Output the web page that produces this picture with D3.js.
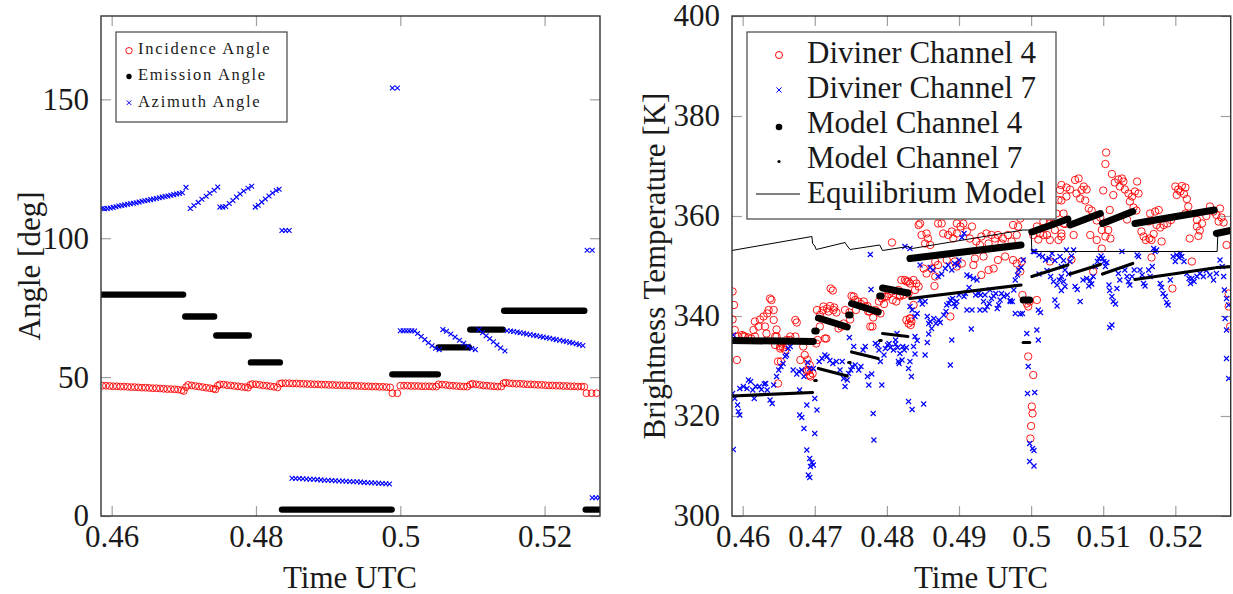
<!DOCTYPE html>
<html>
<head>
<meta charset="utf-8">
<script src="https://cdn.jsdelivr.net/npm/d3@7"></script>
<style>
  body { margin: 0; background: #fff; }
  svg { display: block; }
  svg text { font-family: "Liberation Serif", "Times New Roman", "DejaVu Serif", serif; }
</style>
</head>
<body>
<script>
// time axis shared by both panels
const timeDomain = [0.45852, 0.52768];
const leftTimeTicks = [0.46, 0.48, 0.5, 0.52];
const rightTimeTicks = [0.46, 0.47, 0.48, 0.49, 0.5, 0.51, 0.52];
const angleTicks = [0, 50, 100, 150];
const tempTicks = [300, 320, 340, 360, 380, 400];

const leftLegend = ["Incidence Angle", "Emission Angle", "Azimuth Angle"];
const rightLegend = ["Diviner Channel 4", "Diviner Channel 7", "Model Channel 4", "Model Channel 7", "Equilibrium Model"];

// [time, deg]
const incidence = [
  [0.4587,46.9],[0.4592,46.9],[0.4597,46.8],[0.4602,46.7],[0.4607,46.7],[0.4612,46.6],[0.4617,46.6],[0.4622,46.5],
  [0.4627,46.4],[0.4632,46.4],[0.4637,46.3],[0.4642,46.2],[0.4647,46.2],[0.4652,46.1],[0.4657,46.0],[0.4662,46.0],
  [0.4667,45.9],[0.4672,45.8],[0.4677,45.7],[0.4682,45.7],[0.4687,45.6],[0.4692,45.5],[0.4697,45.3],[0.4700,45.0],
  [0.4703,46.4],[0.4706,47.2],[0.4711,47.0],[0.4716,46.8],[0.4721,46.6],[0.4726,46.4],[0.4731,46.2],[0.4736,46.0],[0.4741,45.8],[0.4744,45.6],
  [0.4747,46.9],[0.4750,47.4],[0.4755,47.3],[0.4760,47.1],[0.4765,47.0],[0.4770,46.8],[0.4775,46.7],[0.4780,46.5],[0.4785,46.4],[0.4789,46.2],
  [0.4792,47.2],[0.4795,47.5],[0.4800,47.4],[0.4805,47.2],[0.4810,47.0],[0.4815,46.9],[0.4820,46.7],[0.4825,46.5],[0.4830,46.3],
  [0.4833,47.6],[0.4836,47.8],[0.4841,47.8],[0.4846,47.8],[0.4851,47.7],[0.4856,47.7],[0.4861,47.6],[0.4866,47.6],
  [0.4871,47.5],[0.4876,47.5],[0.4881,47.4],[0.4886,47.4],[0.4891,47.3],[0.4896,47.3],[0.4901,47.2],[0.4906,47.2],
  [0.4911,47.1],[0.4916,47.1],[0.4921,47.0],[0.4926,47.0],[0.4931,46.9],[0.4936,46.9],[0.4941,46.8],[0.4946,46.8],
  [0.4951,46.7],[0.4956,46.7],[0.4961,46.6],[0.4966,46.6],[0.4971,46.5],[0.4976,46.5],[0.4981,46.4],[0.4986,46.3],
  [0.4989,44.2],[0.4996,44.2],
  [0.5000,46.9],[0.5005,46.9],[0.5010,46.9],[0.5015,46.8],[0.5020,46.8],[0.5025,46.8],[0.5030,46.7],[0.5035,46.7],[0.5040,46.7],[0.5045,46.6],[0.5050,46.6],
  [0.5053,47.4],[0.5058,47.3],[0.5063,47.2],[0.5068,47.0],[0.5073,46.9],[0.5078,46.8],[0.5083,46.7],[0.5088,46.6],[0.5093,46.6],
  [0.5097,47.3],[0.5100,47.6],[0.5105,47.4],[0.5110,47.2],[0.5115,47.0],[0.5120,46.9],[0.5125,46.8],[0.5130,46.7],[0.5135,46.6],[0.5140,46.6],
  [0.5143,47.8],[0.5146,48.0],[0.5151,47.8],[0.5156,47.7],[0.5161,47.6],[0.5166,47.6],[0.5171,47.5],[0.5176,47.4],
  [0.5181,47.4],[0.5186,47.3],[0.5191,47.2],[0.5196,47.2],[0.5201,47.1],[0.5206,47.0],[0.5211,47.0],[0.5216,46.9],
  [0.5221,46.9],[0.5226,46.8],[0.5231,46.8],[0.5236,46.7],[0.5241,46.7],[0.5246,46.6],[0.5251,46.6],[0.5255,46.5],
  [0.5258,44.2],[0.5265,44.2],[0.5272,44.2]
];

// emission angle holds constant over each pointing: [t start, t end, deg]
const emission = [
  [0.4586,0.4699,79.7],[0.4702,0.4742,71.8],[0.4745,0.4790,65.0],[0.4793,0.4833,55.3],
  [0.4836,0.4988,2.3],[0.4989,0.5052,51.0],[0.5053,0.5095,60.7],[0.5097,0.5142,67.1],
  [0.5144,0.5255,73.9],[0.5257,0.5280,2.3]
];

const azimuth = [
  [0.4587,110.7],[0.4590,110.6],[0.4594,110.7],[0.4598,110.9],[0.4602,111.1],[0.4606,111.3],[0.4610,111.6],[0.4614,111.8],
  [0.4618,112.0],[0.4622,112.2],[0.4626,112.4],[0.4630,112.6],[0.4634,112.8],[0.4638,113.0],[0.4642,113.3],[0.4646,113.5],
  [0.4650,113.7],[0.4654,113.9],[0.4658,114.1],[0.4662,114.3],[0.4666,114.6],[0.4670,114.8],[0.4674,115.0],[0.4678,115.2],
  [0.4682,115.5],[0.4686,115.7],[0.4690,115.9],[0.4694,116.1],[0.4698,116.4],[0.4703,118.3],
  [0.4709,110.7],[0.4714,111.8],[0.4720,112.9],[0.4725,114.0],[0.4731,115.1],[0.4736,116.2],[0.4742,117.3],[0.4747,118.4],
  [0.4750,111.2],[0.4754,111.2],[0.4758,111.4],[0.4763,112.5],[0.4768,113.6],[0.4773,114.8],[0.4778,115.9],[0.4783,117.0],[0.4789,118.0],[0.4794,118.7],
  [0.4799,111.2],[0.4803,111.9],[0.4808,113.0],[0.4813,114.1],[0.4818,115.2],[0.4823,116.3],[0.4828,117.2],[0.4832,117.6],
  [0.4836,102.8],[0.4841,102.8],[0.4846,102.8],
  [0.4989,154.1],[0.4996,154.1],
  [0.4850,13.6],[0.4855,13.5],[0.4860,13.5],[0.4865,13.4],[0.4870,13.3],[0.4875,13.2],[0.4880,13.2],[0.4885,13.1],
  [0.4890,13.0],[0.4895,12.9],[0.4900,12.9],[0.4905,12.8],[0.4910,12.7],[0.4915,12.6],[0.4920,12.6],[0.4925,12.5],
  [0.4930,12.4],[0.4935,12.3],[0.4940,12.3],[0.4945,12.2],[0.4950,12.1],[0.4955,12.0],[0.4960,12.0],[0.4965,11.9],
  [0.4970,11.8],[0.4975,11.7],[0.4980,11.6],[0.4985,11.5],
  [0.5000,66.7],[0.5004,66.7],[0.5008,66.7],[0.5012,66.7],[0.5016,66.7],[0.5020,66.6],[0.5024,65.7],[0.5029,64.6],
  [0.5034,63.5],[0.5039,62.4],[0.5044,61.3],[0.5049,60.4],[0.5054,59.9],
  [0.5059,67.1],[0.5064,66.5],[0.5070,65.5],[0.5076,64.4],[0.5082,63.3],[0.5088,62.2],[0.5094,61.1],[0.5099,60.3],[0.5104,59.9],
  [0.5109,67.1],[0.5114,66.0],[0.5119,64.9],[0.5124,63.8],[0.5129,62.7],[0.5134,61.6],[0.5139,60.5],[0.5145,59.4],
  [0.5148,66.7],[0.5153,66.6],[0.5157,66.4],[0.5162,66.2],[0.5166,66.0],[0.5171,65.8],[0.5175,65.5],[0.5180,65.3],
  [0.5185,65.1],[0.5189,64.9],[0.5194,64.6],[0.5198,64.4],[0.5203,64.2],[0.5207,64.0],[0.5212,63.7],[0.5216,63.5],
  [0.5221,63.3],[0.5226,63.0],[0.5230,62.8],[0.5235,62.5],[0.5239,62.3],[0.5244,62.0],[0.5248,61.7],[0.5253,61.4],
  [0.5259,95.7],[0.5266,95.7],
  [0.5266,6.6],[0.5271,6.6],[0.5276,6.6]
];

// [time, K]
const diviner4 = [
  [0.4586,344.9],[0.4588,342.2],[0.4586,339.3],[0.4589,337.2],[0.4594,335.9],[0.4601,336.0],[0.4608,335.7],[0.4592,331.2],
  [0.4615,337.2],[0.4617,338.9],[0.4622,337.9],[0.4624,339.3],[0.4629,339.9],[0.4631,337.9],[0.4634,340.5],[0.4636,341.2],
  [0.4638,343.5],[0.4640,343.2],[0.4643,341.2],[0.4643,339.2],[0.4647,337.3],[0.4645,335.9],[0.4652,333.9],[0.4656,333.7],
  [0.4661,334.2],[0.4653,330.9],[0.4649,326.5],[0.4673,339.2],[0.4675,338.7],[0.4666,335.2],[0.4686,332.2],[0.4690,331.2],
  [0.4693,330.2],[0.4692,329.2],[0.4697,328.5],[0.4694,327.9],[0.4689,328.9],[0.4702,334.5],[0.4704,335.2],[0.4716,335.5],
  [0.4722,345.5],[0.4725,345.1],[0.4707,340.2],[0.4711,341.1],[0.4717,341.5],[0.4721,342.0],[0.4727,341.7],[0.4730,340.7],
  [0.4742,341.2],[0.4748,340.7],[0.4754,343.9],[0.4757,341.2],[0.4764,342.4],[0.4768,342.9],[0.4773,342.0],[0.4776,340.9],
  [0.4781,339.7],[0.4780,337.9],[0.4786,340.9],[0.4789,342.9],[0.4793,343.5],[0.4796,342.4],[0.4800,343.9],[0.4803,344.4],
  [0.4808,343.2],[0.4813,342.9],[0.4807,354.7],[0.4749,339.3],
  [0.4680,331.2],[0.4689,329.2],[0.4693,328.2],[0.4652,333.5],[0.4633,336.5],[0.4647,335.9],[0.4654,334.5],[0.4661,335.2],
  [0.4666,335.9],[0.4673,335.9],[0.4684,333.9],[0.4645,334.2],[0.4649,330.9],[0.4659,333.2],[0.4599,336.2],[0.4603,335.9],
  [0.4612,335.5],[0.4617,335.9],[0.4797,343.9],[0.4807,344.9],[0.4816,345.2],[0.4820,347.2],[0.4825,347.2],[0.4830,346.9],
  [0.4823,344.2],[0.4827,339.2],[0.4830,338.5],[0.4832,339.5],[0.4818,344.2],
  [0.4703,341.2],[0.4712,341.9],[0.4719,340.9],[0.4726,341.2],[0.4733,337.5],[0.4737,337.9],[0.4740,338.5],[0.4714,335.5],
  [0.4707,337.9],[0.4751,344.0],[0.4756,343.2],[0.4760,342.9],[0.4770,341.9],[0.4774,340.9],[0.4777,337.9],[0.4784,341.2],
  [0.4791,340.5],
  [0.4846,358.5],[0.4855,356.5],[0.4857,355.5],[0.4853,354.5],[0.4860,354.2],[0.4876,358.5],[0.4878,356.5],[0.4885,356.2],
  [0.4890,356.9],[0.4892,355.5],[0.4897,356.5],[0.4902,357.9],[0.4906,358.5],[0.4911,356.9],[0.4918,357.9],[0.4915,355.5],
  [0.4924,354.9],[0.4931,355.9],[0.4938,356.5],[0.4945,356.2],[0.4950,355.5],[0.4954,356.2],[0.4961,355.5],[0.4968,356.2],
  [0.4973,354.9],[0.4980,356.2],[0.4982,357.9],[0.4985,359.5],[0.4929,354.2],[0.4941,354.5],[0.4959,354.5],[0.4867,350.9],
  [0.4871,350.2],[0.4862,349.5],[0.4867,347.9],[0.4883,351.2],[0.4894,350.9],[0.4897,349.9],[0.4904,350.5],[0.4920,350.2],
  [0.4922,351.5],[0.4934,351.9],[0.4941,349.2],[0.4948,349.5],[0.4954,351.2],[0.4964,351.9],[0.4975,351.2],[0.4980,350.5],
  [0.4987,350.9],[0.4844,358.2],[0.4848,356.2],[0.4871,358.5],[0.4897,358.5],[0.4975,358.2],[0.4851,349.5],[0.4855,348.5],
  [0.4931,348.2],[0.4985,348.9],[0.4866,346.0],
  [0.4827,346.9],[0.4832,346.5],[0.4837,347.2],[0.4841,346.5],[0.4844,345.9],[0.4839,345.2],[0.4830,344.5],[0.4818,343.9],
  [0.4837,342.2],[0.4832,339.5],[0.4834,338.9],[0.4833,338.2],[0.4888,339.9],
  [0.4988,344.2],[0.4994,342.5],[0.4998,342.9],[0.5008,343.2],[0.4996,341.9],[0.4996,331.9],[0.5003,328.2],[0.5001,321.9],
  [0.5002,320.5],[0.5000,318.0],[0.4999,315.5],
  [0.5010,355.3],[0.5017,356.2],[0.5026,358.5],[0.5038,355.2],[0.5042,356.5],[0.5045,358.5],[0.5033,357.2],[0.5038,363.2],
  [0.5040,365.2],[0.5042,366.2],[0.5031,358.5],[0.5035,360.5],[0.5026,355.2],[0.5017,358.9],[0.5008,357.9],[0.5003,356.2],
  [0.5022,356.2],[0.5026,350.9],[0.5012,356.5],
  [0.5104,372.7],[0.5103,370.4],[0.5112,368.4],[0.5116,366.7],[0.5121,367.3],[0.5126,367.5],[0.5128,366.9],[0.5123,365.9],
  [0.5130,365.3],[0.5114,364.2],[0.5100,365.1],[0.5135,364.5],[0.5140,363.9],[0.5137,362.9],[0.5144,364.9],[0.5149,364.5],
  [0.5147,366.9],[0.5049,365.7],[0.5054,365.3],[0.5061,367.2],[0.5066,367.5],[0.5070,365.2],[0.5073,365.9],[0.5077,365.3],
  [0.5068,363.5],[0.5075,363.1],[0.5080,361.5],[0.5084,361.1],[0.5049,363.9],[0.5042,363.1],[0.5045,360.5],[0.5063,364.5],
  [0.5109,361.2],[0.5096,359.7],[0.5091,359.1],[0.5098,357.2],[0.5107,357.2],[0.5103,355.9],[0.5110,355.5],[0.5082,356.2],
  [0.5091,355.2],[0.5059,356.2],[0.5047,358.4],[0.5042,355.9],[0.5098,353.5],[0.5142,361.7],[0.5146,361.1],[0.5133,359.3],
  [0.5165,360.5],[0.5172,360.9],[0.5177,361.2],[0.5163,358.9],[0.5174,358.2],[0.5179,357.7],[0.5184,358.2],[0.5189,358.5],
  [0.5194,359.2],[0.5181,354.9],[0.5170,356.4],[0.5156,355.9],[0.5159,355.2],[0.5164,355.5],[0.5153,356.9],[0.5167,355.2],
  [0.5200,365.9],[0.5204,365.3],[0.5209,366.0],[0.5214,365.7],[0.5202,364.2],[0.5207,364.9],[0.5212,364.4],[0.5216,363.4],
  [0.5218,361.9],[0.5214,360.5],[0.5220,355.5],[0.5230,357.9],[0.5234,357.1],[0.5232,356.0],[0.5230,359.2],[0.5237,358.5],
  [0.5243,360.0],[0.5248,361.9],[0.5253,360.9],[0.5257,360.2],[0.5262,361.5],[0.5264,359.7],[0.5260,358.9],[0.5267,358.7],
  [0.5271,354.2],[0.5274,344.5],[0.5274,341.9],[0.5276,337.9],[0.5167,351.7],[0.5223,350.9],[0.5196,345.5],[0.5056,351.3],
  [0.5086,348.9]
];

const diviner7 = [
  [0.4587,336.2],[0.4586,324.5],[0.4589,323.5],[0.4593,322.2],[0.4594,320.9],[0.4596,320.2],[0.4587,313.3],[0.4596,325.5],
  [0.4601,325.9],[0.4606,325.5],[0.4608,327.2],[0.4611,326.9],[0.4614,325.2],[0.4616,323.5],[0.4618,325.9],[0.4623,325.9],
  [0.4626,325.3],[0.4630,326.4],[0.4632,326.5],[0.4634,325.2],[0.4638,323.2],[0.4641,322.5],[0.4643,326.2],[0.4647,327.9],
  [0.4650,329.2],[0.4653,329.9],[0.4656,330.5],[0.4659,331.9],[0.4663,333.5],[0.4666,333.9],[0.4661,332.2],[0.4670,329.2],
  [0.4675,328.4],[0.4678,328.9],[0.4682,329.2],[0.4685,327.9],[0.4679,325.2],[0.4679,320.2],[0.4682,319.7],[0.4685,317.5],
  [0.4689,322.2],[0.4700,323.5],[0.4703,321.2],[0.4700,316.5],[0.4689,313.2],[0.4693,311.5],[0.4696,310.7],[0.4694,309.9],
  [0.4698,310.2],[0.4691,308.2],[0.4693,307.7],[0.4690,330.7],[0.4693,329.5],[0.4698,329.5],[0.4706,330.9],[0.4710,331.5],
  [0.4714,332.2],[0.4717,331.9],[0.4721,331.1],[0.4725,330.5],[0.4730,330.9],[0.4735,329.2],[0.4738,330.9],[0.4740,327.5],
  [0.4742,325.9],[0.4745,327.2],[0.4747,328.5],[0.4750,329.2],[0.4752,329.9],[0.4756,330.2],[0.4761,329.2],[0.4764,329.9],
  [0.4767,333.2],[0.4770,333.9],[0.4773,327.9],[0.4775,326.2],[0.4779,328.4],[0.4784,334.5],[0.4787,334.2],[0.4789,333.2],
  [0.4791,330.9],[0.4793,326.2],[0.4796,332.2],[0.4798,333.5],[0.4801,334.2],[0.4803,334.5],[0.4805,333.7],[0.4809,333.2],
  [0.4812,335.2],[0.4814,336.5],[0.4816,330.9],[0.4777,352.3],[0.4778,345.3],[0.4781,320.5],[0.4782,315.2],[0.4748,335.7],
  [0.4754,333.9],
  [0.4832,353.5],[0.4846,350.2],[0.4860,349.7],[0.4864,349.2],[0.4871,347.9],[0.4876,348.4],[0.4881,349.5],[0.4885,350.2],
  [0.4890,349.2],[0.4894,350.5],[0.4898,350.2],[0.4900,351.2],[0.4904,355.7],[0.4907,356.5],[0.4911,348.2],[0.4915,347.9],
  [0.4920,347.5],[0.4925,347.2],[0.4927,344.5],[0.4930,344.2],[0.4934,342.9],[0.4936,341.2],[0.4939,341.9],[0.4942,342.5],
  [0.4945,343.5],[0.4948,344.0],[0.4951,344.5],[0.4953,341.5],[0.4955,342.2],[0.4959,344.5],[0.4962,343.9],[0.4967,344.2],
  [0.4971,343.1],[0.4974,342.9],[0.4976,345.2],[0.4978,347.2],[0.4981,348.2],[0.4983,349.2],[0.4986,349.7],[0.4989,351.2],
  [0.4985,340.4],[0.4832,341.9],[0.4835,341.2],[0.4839,339.9],[0.4842,340.5],[0.4846,343.2],[0.4849,342.4],[0.4853,342.9],
  [0.4856,339.9],[0.4858,338.5],[0.4860,338.9],[0.4862,337.5],[0.4865,339.5],[0.4868,338.5],[0.4872,339.2],[0.4874,338.7],
  [0.4879,340.2],[0.4882,340.9],[0.4883,342.2],[0.4886,342.5],[0.4888,343.2],[0.4891,343.5],[0.4893,342.5],[0.4895,341.9],
  [0.4897,342.9],[0.4900,344.2],[0.4907,343.9],[0.4909,344.5],[0.4914,345.7],[0.4918,341.2],[0.4923,344.2],[0.4839,335.9],
  [0.4842,335.1],[0.4837,333.9],[0.4839,332.4],[0.4832,330.9],[0.4830,329.5],[0.4834,327.9],[0.4853,332.2],[0.4856,334.7],
  [0.4858,336.4],[0.4890,335.2],[0.4888,330.2],[0.4917,337.4],[0.4830,322.9],[0.4835,321.3],[0.4851,322.4],[0.4812,334.4],
  [0.4815,333.7],[0.4818,332.5],[0.4822,333.9],[0.4824,333.2],[0.4827,333.7],[0.4821,331.2],[0.4817,330.5],[0.4911,341.2],
  [0.4929,341.2],[0.4957,343.2],[0.4971,342.9],[0.4978,340.5],[0.4936,344.2],[0.4943,345.2],[0.4825,353.9],
  [0.4994,336.5],[0.5008,337.2],[0.5010,335.2],[0.4996,329.9],[0.4995,324.5],[0.5005,324.7],[0.4998,314.5],[0.5002,313.5],
  [0.5004,313.1],[0.4998,310.9],[0.5004,310.0],[0.4988,340.5],[0.5010,341.2],[0.5013,340.7],
  [0.5003,352.9],[0.5005,352.9],[0.5011,352.2],[0.5016,351.9],[0.5020,351.2],[0.5025,351.5],[0.5029,352.5],[0.5033,351.1],
  [0.5022,349.1],[0.5027,347.9],[0.5031,346.9],[0.5036,346.2],[0.5039,347.2],[0.5042,347.9],[0.5045,351.1],[0.5011,348.4],
  [0.5033,343.2],[0.5036,342.0],[0.5049,353.2],
  [0.5040,351.9],[0.5042,349.9],[0.5047,349.2],[0.5052,348.4],[0.5045,346.9],[0.5047,345.9],[0.5042,345.1],[0.5059,353.2],
  [0.5056,352.0],[0.5054,350.9],[0.5061,345.9],[0.5064,345.3],[0.5068,342.9],[0.5072,347.2],[0.5077,347.5],[0.5082,347.1],
  [0.5084,346.4],[0.5080,346.0],[0.5086,347.9],[0.5089,349.9],[0.5092,350.9],[0.5094,351.5],[0.5097,352.0],[0.5099,351.5],
  [0.5101,350.9],[0.5105,350.7],[0.5103,349.9],[0.5108,346.2],[0.5109,345.1],[0.5112,343.9],[0.5114,342.9],[0.5117,342.4],
  [0.5119,345.5],[0.5123,347.2],[0.5121,348.5],[0.5126,352.9],[0.5130,349.2],[0.5133,347.9],[0.5135,346.9],[0.5137,346.2],
  [0.5140,347.9],[0.5143,349.2],[0.5147,352.2],[0.5149,351.9],[0.5151,349.2],[0.5154,348.2],[0.5156,346.5],[0.5158,346.0],
  [0.5163,349.2],[0.5165,347.9],[0.5168,349.9],[0.5170,353.5],[0.5172,352.9],[0.5174,353.2],[0.5179,346.5],[0.5181,345.7],
  [0.5183,344.5],[0.5186,343.9],[0.5188,342.7],[0.5190,342.2],[0.5193,347.2],[0.5197,351.9],[0.5200,350.9],[0.5202,352.2],
  [0.5205,351.7],[0.5207,352.5],[0.5209,351.9],[0.5212,350.9],[0.5216,348.5],[0.5219,347.5],[0.5221,346.5],[0.5223,347.5],
  [0.5226,346.9],[0.5230,347.9],[0.5234,348.5],[0.5239,347.9],[0.5243,349.1],[0.5248,348.2],[0.5253,347.2],[0.5257,348.5],
  [0.5262,351.2],[0.5265,349.9],[0.5267,347.9],[0.5268,345.2],[0.5271,343.5],[0.5274,342.2],[0.5269,339.5],[0.5271,337.2],
  [0.5271,331.5],[0.5274,327.5],[0.5112,338.2],[0.5109,337.7]
];

// model runs per pointing: [t start, K start, t end, K end]
const model4 = [
  [0.4585,335.1,0.4698,334.9],[0.4700,337.0,0.4702,337.0],[0.4705,339.6,0.4745,337.8],[0.4747,340.2,0.4749,340.2],
  [0.4751,342.5,0.4788,340.8],[0.4790,344.0,0.4792,344.0],[0.4794,345.6,0.4829,344.6],[0.4832,351.5,0.4986,354.2],
  [0.4989,343.2,0.4998,343.2],[0.5001,356.8,0.5051,359.4],[0.5054,358.2,0.5096,360.5],[0.5099,358.5,0.5141,360.9],
  [0.5144,358.5,0.5254,361.2],[0.5257,356.5,0.5280,357.2]
];

const model7 = [
  [0.4585,324.0,0.4697,324.7],[0.4700,327.1,0.4702,327.1],[0.4705,329.5,0.4745,328.0],[0.4747,330.7,0.4749,330.7],
  [0.4751,332.8,0.4788,331.5],[0.4790,335.1,0.4792,335.1],[0.4794,336.5,0.4829,335.9],[0.4832,343.5,0.4986,346.2],
  [0.4989,334.7,0.4998,334.7],[0.5001,347.9,0.5051,350.2],[0.5054,348.4,0.5096,350.3],[0.5099,348.4,0.5141,350.5],
  [0.5144,347.3,0.5254,349.6],[0.5257,349.7,0.5280,349.9]
];

const equilibrium = [
  [0.4585,353.1],[0.4696,355.9],[0.4697,354.5],[0.4700,354.0],[0.4702,353.3],[0.4742,354.7],[0.4745,354.0],[0.4749,353.3],
  [0.4790,354.2],[0.4794,353.1],[0.4829,353.9],[0.4835,353.5],[0.4989,357.2],[0.5000,357.2],[0.5001,352.9],[0.5258,352.9],
  [0.5259,356.5],[0.5277,356.7]
];

const FONT = '"Liberation Serif", "Times New Roman", "DejaVu Serif", serif';
const TEXT = "#1a1a1a";
const W = 1233, H = 594;

const svg = d3.select("body").append("svg")
  .attr("width", W)
  .attr("height", H)
  .attr("viewBox", [0, 0, W, H])
  .style("font-family", FONT);

function crossPath(s) {
  return "M" + (-s) + "," + (-s) + "L" + s + "," + s + "M" + (-s) + "," + s + "L" + s + "," + (-s);
}

function addText(str, x, y, size, rotate) {
  return svg.append("text")
    .attr("transform", "translate(" + x + "," + y + ")" + (rotate ? " rotate(-90)" : ""))
    .attr("text-anchor", "middle")
    .style("font-family", FONT)
    .style("font-size", size + "px")
    .attr("fill", TEXT)
    .text(str);
}

function drawFrame(x, y, xTicks, yTicks, clipId) {
  let x0 = x.range()[0], x1 = x.range()[1];
  let y0 = y.range()[0], y1 = y.range()[1];

  svg.append("clipPath").attr("id", clipId)
    .append("rect")
    .attr("x", x0).attr("y", y1)
    .attr("width", x1 - x0).attr("height", y0 - y1);

  let axes = [
    {t: "translate(0," + y0 + ")", a: d3.axisBottom(x).tickValues(xTicks).tickPadding(9).tickFormat(d => String(d))},
    {t: "translate(0," + y1 + ")", a: d3.axisTop(x).tickValues(xTicks).tickFormat("")},
    {t: "translate(" + x0 + ",0)", a: d3.axisLeft(y).tickValues(yTicks).tickPadding(12).tickFormat(d => String(d))},
    {t: "translate(" + x1 + ",0)", a: d3.axisRight(y).tickValues(yTicks).tickFormat("")}
  ];
  axes.forEach(o => {
    svg.append("g")
      .attr("transform", o.t)
      .call(o.a.tickSize(-10))
      .call(g => g.select(".domain").remove())
      .call(g => g.selectAll(".tick line").attr("stroke", "#a0a0a0").attr("stroke-width", 1.2))
      .call(g => g.selectAll("text")
        .attr("fill", TEXT)
        .style("font-family", FONT)
        .style("font-size", "31px"));
  });

  return svg.append("g").attr("clip-path", "url(#" + clipId + ")");
}

function drawBox(x, y) {
  svg.append("rect")
    .attr("x", x.range()[0]).attr("y", y.range()[1])
    .attr("width", x.range()[1] - x.range()[0])
    .attr("height", y.range()[0] - y.range()[1])
    .attr("fill", "none")
    .attr("stroke", "#333")
    .attr("stroke-width", 1.4);
}

// ---------- left panel: angles ----------
let xL = d3.scaleLinear().domain(timeDomain).range([101, 600]);
let yL = d3.scaleLinear().domain([0, 180]).range([516, 16]);
let gL = drawFrame(xL, yL, leftTimeTicks, angleTicks, "clipL");

gL.selectAll(".inc")
  .data(incidence)
  .enter().append("circle")
  .attr("cx", d => xL(d[0]))
  .attr("cy", d => yL(d[1]))
  .attr("r", 3.4)
  .attr("fill", "none")
  .attr("stroke", "#ff0000")
  .attr("stroke-width", 0.9);

gL.selectAll(".emi")
  .data(emission)
  .enter().append("line")
  .attr("x1", d => xL(d[0]))
  .attr("x2", d => xL(d[1]))
  .attr("y1", d => yL(d[2]))
  .attr("y2", d => yL(d[2]))
  .attr("stroke", "#000")
  .attr("stroke-width", 6.4)
  .attr("stroke-linecap", "round");

gL.selectAll(".azi")
  .data(azimuth)
  .enter().append("path")
  .attr("transform", d => "translate(" + xL(d[0]) + "," + yL(d[1]) + ")")
  .attr("d", crossPath(2.4))
  .attr("stroke", "#0000ff")
  .attr("stroke-width", 1.1);

drawBox(xL, yL);

// left legend
let legL = svg.append("g");
legL.append("rect")
  .attr("x", 116).attr("y", 32).attr("width", 171).attr("height", 90)
  .attr("fill", "#fff").attr("stroke", "#444").attr("stroke-width", 1.2);
legL.append("circle").attr("cx", 129).attr("cy", 50.7).attr("r", 3.2)
  .attr("fill", "none").attr("stroke", "#ff0000").attr("stroke-width", 0.9);
legL.append("circle").attr("cx", 129).attr("cy", 76.5).attr("r", 2.7).attr("fill", "#000");
legL.append("path").attr("transform", "translate(129,102.7)").attr("d", crossPath(2.3))
  .attr("stroke", "#0000ff").attr("stroke-width", 1);
legL.selectAll("text")
  .data(leftLegend)
  .enter().append("text")
  .attr("x", 138)
  .attr("y", (d, i) => [54.3, 80.3, 106.7][i])
  .style("font-family", FONT)
  .style("font-size", "16.5px")
  .style("letter-spacing", "1.7px")
  .attr("fill", TEXT)
  .text(d => d);

addText("Time UTC", 350, 588, 31, false);
addText("Angle [deg]", 40, 266, 31, true);

// ---------- right panel: brightness temperature ----------
let xR = d3.scaleLinear().domain(timeDomain).range([732, 1230.7]);
let yR = d3.scaleLinear().domain([300, 400]).range([516, 16]);
let gR = drawFrame(xR, yR, rightTimeTicks, tempTicks, "clipR");

gR.selectAll(".d4")
  .data(diviner4)
  .enter().append("circle")
  .attr("cx", d => xR(d[0]))
  .attr("cy", d => yR(d[1]))
  .attr("r", 3.7)
  .attr("fill", "none")
  .attr("stroke", "#ff0000")
  .attr("stroke-width", 0.9);

gR.selectAll(".d7")
  .data(diviner7)
  .enter().append("path")
  .attr("transform", d => "translate(" + xR(d[0]) + "," + yR(d[1]) + ")")
  .attr("d", crossPath(2.5))
  .attr("stroke", "#0000ff")
  .attr("stroke-width", 1.15);

gR.selectAll(".m4")
  .data(model4)
  .enter().append("line")
  .attr("x1", d => xR(d[0])).attr("y1", d => yR(d[1]))
  .attr("x2", d => xR(d[2])).attr("y2", d => yR(d[3]))
  .attr("stroke", "#000")
  .attr("stroke-width", 7)
  .attr("stroke-linecap", "round");

gR.selectAll(".m7")
  .data(model7)
  .enter().append("line")
  .attr("x1", d => xR(d[0])).attr("y1", d => yR(d[1]))
  .attr("x2", d => xR(d[2])).attr("y2", d => yR(d[3]))
  .attr("stroke", "#000")
  .attr("stroke-width", 3.2)
  .attr("stroke-linecap", "round");

gR.append("path")
  .datum(equilibrium)
  .attr("d", d3.line().x(d => xR(d[0])).y(d => yR(d[1])))
  .attr("fill", "none")
  .attr("stroke", "#000")
  .attr("stroke-width", 1);

drawBox(xR, yR);

// right legend
let legR = svg.append("g");
legR.append("rect")
  .attr("x", 747).attr("y", 32).attr("width", 309).attr("height", 187)
  .attr("fill", "#fff").attr("stroke", "#444").attr("stroke-width", 1.2);
legR.append("circle").attr("cx", 779).attr("cy", 55).attr("r", 3.5)
  .attr("fill", "none").attr("stroke", "#ff0000").attr("stroke-width", 1);
legR.append("path").attr("transform", "translate(779,90)").attr("d", crossPath(2.6))
  .attr("stroke", "#0000ff").attr("stroke-width", 1);
legR.append("circle").attr("cx", 779).attr("cy", 127).attr("r", 3.3).attr("fill", "#000");
legR.append("circle").attr("cx", 779).attr("cy", 161.5).attr("r", 1.6).attr("fill", "#000");
legR.append("line").attr("x1", 756).attr("x2", 800).attr("y1", 194).attr("y2", 194)
  .attr("stroke", "#000").attr("stroke-width", 1);
legR.selectAll("text")
  .data(rightLegend)
  .enter().append("text")
  .attr("x", 807)
  .attr("y", (d, i) => 63.3 + i * 35)
  .style("font-family", FONT)
  .style("font-size", "31px")
  .attr("fill", TEXT)
  .text(d => d);

addText("Time UTC", 981, 588, 31, false);
addText("Brightness Temperature [K]", 665, 266, 31, true);
</script>
</body>
</html>
